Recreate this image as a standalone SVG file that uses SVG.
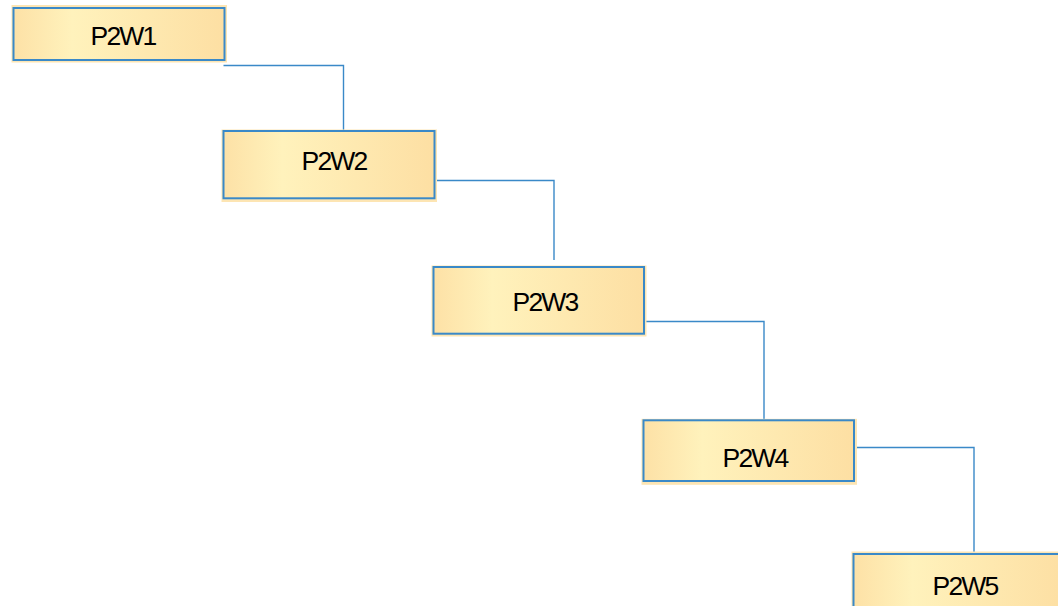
<svg xmlns="http://www.w3.org/2000/svg" width="1058" height="606" viewBox="0 0 1058 606">
<defs>
<linearGradient id="g" x1="0" y1="0" x2="1" y2="0">
<stop offset="0" stop-color="#fde1a6"/>
<stop offset="0.28" stop-color="#fff2bc"/>
<stop offset="1" stop-color="#fddfa3"/>
</linearGradient>
<style>
.halo{fill:#fde5b3;stroke:none}
.box{fill:url(#g);stroke:#3a89c8;stroke-width:2}
.lbl{font-family:"Liberation Sans",Arial,sans-serif;font-size:26.5px;letter-spacing:-1.8px;fill:#000;text-anchor:middle}
.conn{fill:none;stroke:#3a89c8;stroke-width:1.4}
</style>
</defs>
<rect width="1058" height="606" fill="#fff"/>
<g id="connectors">
<polyline class="conn" points="223.5,65.5 343.5,65.5 343.5,134"/>
<polyline class="conn" points="434,180.5 554,180.5 554,260"/>
<polyline class="conn" points="644,321.5 764,321.5 764,420"/>
<polyline class="conn" points="854,447.5 974,447.5 974,554"/>
</g>
<g id="n1">
<rect class="halo" x="11.5" y="5" width="215.5" height="57.5"/>
<rect class="box" x="13.5" y="8" width="211" height="52"/>
<text class="lbl" x="123" y="45">P2W1</text>
</g>
<g id="n2">
<rect class="halo" x="221.5" y="129.5" width="215.5" height="72.5"/>
<rect class="box" x="223.5" y="131" width="211" height="67.3"/>
<text class="lbl" x="334" y="170">P2W2</text>
</g>
<g id="n3">
<rect class="halo" x="431.5" y="265.5" width="215" height="71"/>
<rect class="box" x="433.5" y="267" width="210.5" height="66.7"/>
<text class="lbl" x="545" y="311">P2W3</text>
</g>
<g id="n4">
<rect class="halo" x="641.5" y="418.8" width="215.5" height="66"/>
<rect class="box" x="643.5" y="420.3" width="210.5" height="60.7"/>
<text class="lbl" x="755" y="466.7">P2W4</text>
</g>
<g id="n5">
<rect class="halo" x="851.5" y="551.5" width="215.5" height="70"/>
<rect class="box" x="853.5" y="554" width="211" height="66"/>
<text class="lbl" x="965" y="595">P2W5</text>
</g>
</svg>
